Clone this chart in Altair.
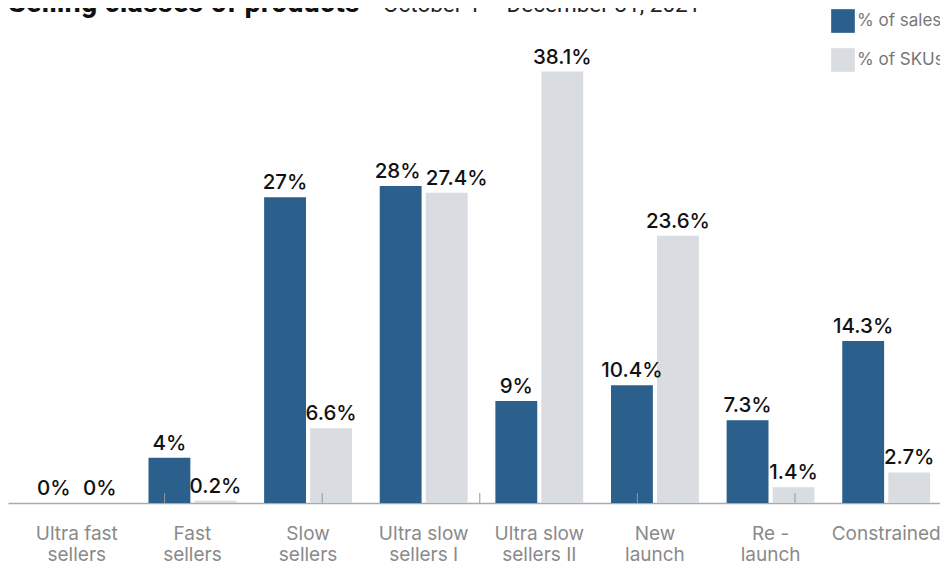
import altair as alt
import pandas as pd

# ---- data ----
categories = ["Ultra fast\nsellers", "Fast\nsellers", "Slow\nsellers", "Ultra slow\nsellers I",
              "Ultra slow\nsellers II", "New\nlaunch", "Re -\nlaunch", "Constrained"]
series = ["% of sales", "% of SKUs"]
sales = [0, 4, 27, 28, 9, 10.4, 7.3, 14.3]
skus = [0, 0.2, 6.6, 27.4, 38.1, 23.6, 1.4, 2.7]
colors = ["#2B5F8C", "#D9DCE0"]
title_main = "Selling classes of products"
title_sub = "October 1 – December 31, 2021"
tick_positions = [0, 1, 2, 3, 4, 5, 6]

rows = []
for i, c in enumerate(categories):
    for s, vals in zip(series, [sales, skus]):
        v = vals[i]
        rows.append({"idx": i, "category": c, "series": s, "value": v, "label": f"{v:g}%"})
df = pd.DataFrame(rows)

W, H = 947, 453
FONT = "Roboto"
LFONT = "Inter"
CROWDED = 3  # group whose two value labels are pushed apart in the original

x_enc = alt.X("category:N", sort=categories,
              scale=alt.Scale(paddingInner=0.24, paddingOuter=0.215),
              axis=alt.Axis(orient="bottom", title=None, labelAngle=0, ticks=False,
                            domainColor="#aaaaaa", domainWidth=1.5,
                            labelFont=LFONT, labelFontSize=19, labelColor="#8a8a8a",
                            labelPadding=21, labelBaseline="top", labelLineHeight=21,
                            labelOverlap=False, labelLimit=0,
                            labelExpr="split(datum.label, '\\n')"))
xo_enc = alt.XOffset("series:N", sort=series, scale=alt.Scale(paddingInner=0.09))
y_enc = alt.Y("value:Q", scale=alt.Scale(domain=[0, 40], nice=False), axis=None)

base = alt.Chart(df)
bars = base.mark_bar().encode(
    x=x_enc, xOffset=xo_enc, y=y_enc,
    color=alt.Color("series:N", sort=series,
                    scale=alt.Scale(domain=series, range=colors),
                    legend=alt.Legend(title=None, orient="none", legendX=823, legendY=-41,
                                      symbolType="square", symbolSize=560,
                                      symbolStrokeWidth=0, rowPadding=15,
                                      labelFont=LFONT, labelFontSize=17,
                                      labelColor="#777777", labelOffset=2,
                                      labelLimit=0)),
)

text_style = dict(baseline="alphabetic", font=LFONT, fontSize=20.5, fontWeight=500,
                  color="#111111")
labels = base.transform_filter(f"datum.idx != {CROWDED}").mark_text(
    dy=-8, **text_style).encode(x=x_enc, xOffset=xo_enc, y=y_enc, text="label:N")
labels_a = base.transform_filter(
    f"datum.idx == {CROWDED} && datum.series == '{series[0]}'").mark_text(
    dy=-8, dx=-3, **text_style).encode(x=x_enc, xOffset=xo_enc, y=y_enc, text="label:N")
labels_b = base.transform_filter(
    f"datum.idx == {CROWDED} && datum.series == '{series[1]}'").mark_text(
    dy=-8, dx=10, **text_style).encode(x=x_enc, xOffset=xo_enc, y=y_enc, text="label:N")

ticks = alt.Chart(pd.DataFrame({"t": tick_positions})).mark_rule(
    color="#999999", strokeWidth=1).encode(
    x=alt.X("t:Q", scale=alt.Scale(domain=[0, 6], nice=False, range=[-1, 944.6]), axis=None),
    y=alt.value(H - 10), y2=alt.value(H),
)

title1 = alt.Chart(pd.DataFrame({"t": [title_main]})).mark_text(
    align="left", baseline="alphabetic", font=FONT, fontSize=29, fontWeight="bold",
    color="#111111").encode(x=alt.value(0), y=alt.value(-38), text="t:N")
title2 = alt.Chart(pd.DataFrame({"t": [title_sub]})).mark_text(
    align="left", baseline="alphabetic", font=FONT, fontSize=22.5,
    color="#222222").encode(x=alt.value(375), y=alt.value(-38), text="t:N")

chart = alt.layer(alt.layer(bars, labels, labels_a, labels_b), ticks, title1, title2).resolve_scale(
    x="independent"
).properties(
    width=W, height=H,
    autosize=alt.AutoSizeParams(type="none"),
    padding={"left": 0, "top": 42, "right": -15, "bottom": 66},
).configure_view(stroke=None)

chart.save("out.html", embed_options={"renderer": "svg", "actions": False})
